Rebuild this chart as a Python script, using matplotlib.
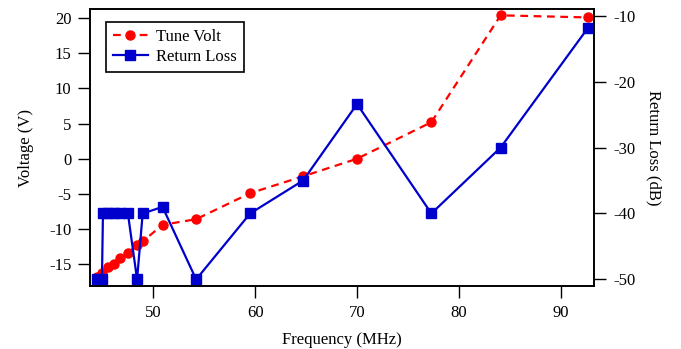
import matplotlib
matplotlib.use("Agg")
import matplotlib.pyplot as plt

plt.rcParams['font.family'] = ['Liberation Serif', 'DejaVu Serif']
plt.rcParams['font.size'] = 12
plt.rcParams['axes.unicode_minus'] = False

# tune voltage vs frequency
volt_freq = [44.5, 45.0, 45.5, 46.1, 46.7, 47.5, 48.4, 49.0, 50.9, 54.2, 59.5, 64.7, 70.0, 77.3, 84.1, 92.7]
volt_vals = [-16.8, -16.3, -15.4, -14.9, -14.1, -13.4, -12.3, -11.7, -9.4, -8.6, -4.9, -2.5, 0.0, 5.2, 20.4, 20.1]

# return loss vs frequency
rl_freq = [44.5, 44.95, 45.05, 45.5, 46.1, 46.7, 47.5, 48.4, 48.95, 50.9, 54.2, 59.5, 64.7, 70.0, 77.3, 84.1, 92.7]
rl_vals = [-50, -50, -40, -40, -40, -40, -40, -50, -40, -39, -50, -40, -35, -23.4, -40, -30, -11.8]

volt_ticks = [-15, -10, -5, 0, 5, 10, 15, 20]
rl_ticks = [-50, -40, -30, -20, -10]
freq_ticks = [50, 60, 70, 80, 90]

fig = plt.figure(figsize=(6.81, 3.49), dpi=100)
ax = fig.add_axes([0.1322, 0.1805, 0.7405, 0.7937])
ax2 = ax.twinx()

l1, = ax.plot(volt_freq, volt_vals, color='#ff0000', linestyle=(0, (3.5, 2.5)), linewidth=1.6,
              marker='o', markersize=6.5, label='Tune Volt')
l2, = ax2.plot(rl_freq, rl_vals, color='#0000cc', linestyle='-', linewidth=1.6,
               marker='s', markersize=7, label='Return Loss')

ax.set_xlim(43.78, 93.3)
ax.set_ylim(-18.1, 21.3)
ax2.set_ylim(-51.0, -8.98)

ax.set_xticks(freq_ticks)
ax.set_yticks(volt_ticks)
ax2.set_yticks(rl_ticks)

for a in (ax, ax2):
    a.tick_params(direction='out', length=8.5, width=1.0, pad=5, labelsize=12)
    for s in a.spines.values():
        s.set_linewidth(1.2)

ax.set_xlabel('Frequency (MHz)', labelpad=8)
ax.set_ylabel('Voltage (V)', labelpad=11)
ax2.set_ylabel('Return Loss (dB)', rotation=270, labelpad=19)

leg = ax2.legend(handles=[l1, l2], loc='upper left', bbox_to_anchor=(0.022, 0.97),
                 fancybox=False, framealpha=1, edgecolor='black', handlelength=2.1,
                 borderpad=0.4, labelspacing=0.25, handletextpad=0.5, borderaxespad=0.3)
leg.get_frame().set_linewidth(1.2)

fig.savefig('out.png', dpi=100)
